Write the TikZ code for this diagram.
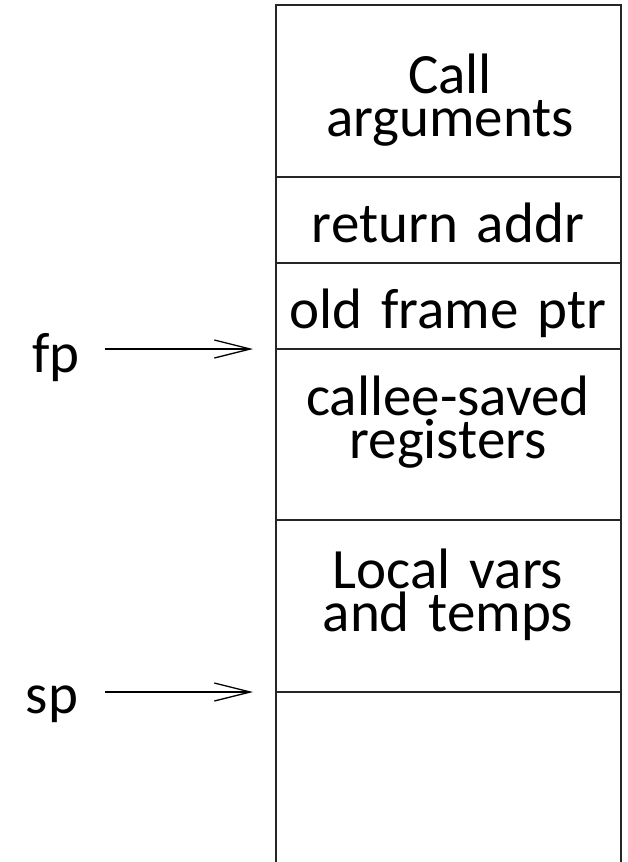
\documentclass[tikz,border=0pt]{standalone}
\usepackage{fontspec}
\setmainfont{Carlito}
\usetikzlibrary{arrows.meta}
\newcommand{\cellfont}{\fontsize{57}{43}\selectfont\spaceskip=0.19em\relax}
\begin{document}
\begin{tikzpicture}[x=1pt,y=-1pt,
  cell/.style={draw=black!85, line width=2pt, rectangle, inner sep=0pt,
    minimum width=345pt},
  celltext/.style={inner sep=0pt, anchor=base, text width=340pt, align=center,
    font=\cellfont},
  ptr/.style={font=\cellfont, inner sep=0pt, anchor=base},
  ptrarrow/.style={line width=1.3pt, -{Straight Barb[length=36pt,width=18pt,line width=1.3pt]}}]
\useasboundingbox (0,0) rectangle (628,862);
\clip (0,0) rectangle (628,862);
\node[cell, minimum height=172pt] (args) at (448.5,91) {};
\node[cell, minimum height=86pt] (ret) at (448.5,220) {};
\node[cell, minimum height=86pt] (ofp) at (448.5,306) {};
\node[cell, minimum height=171pt] (callee) at (448.5,434.5) {};
\node[cell, minimum height=172pt] (locals) at (448.5,606) {};
\node[cell, minimum height=190pt] (free) at (448.5,787) {};
\node[celltext] (argsT) at (450,93) {Call\\arguments};
\node[celltext] (retT) at (448,242) {return addr};
\node[celltext] (ofpT) at (448,328) {old frame ptr};
\node[celltext] (calleeT) at (448,415) {callee-saved\\registers};
\node[celltext] (localsT) at (448,588) {Local vars\\and temps};
\node[ptr] (fp) at (56,372) {fp};
\node[ptr] (sp) at (52,713) {sp};
\coordinate (fpend) at (253,349);
\coordinate (spend) at (253,692);
\draw[ptrarrow] (105,349) -- (fpend);
\draw[ptrarrow] (105,692) -- (spend);
\end{tikzpicture}
\end{document}
